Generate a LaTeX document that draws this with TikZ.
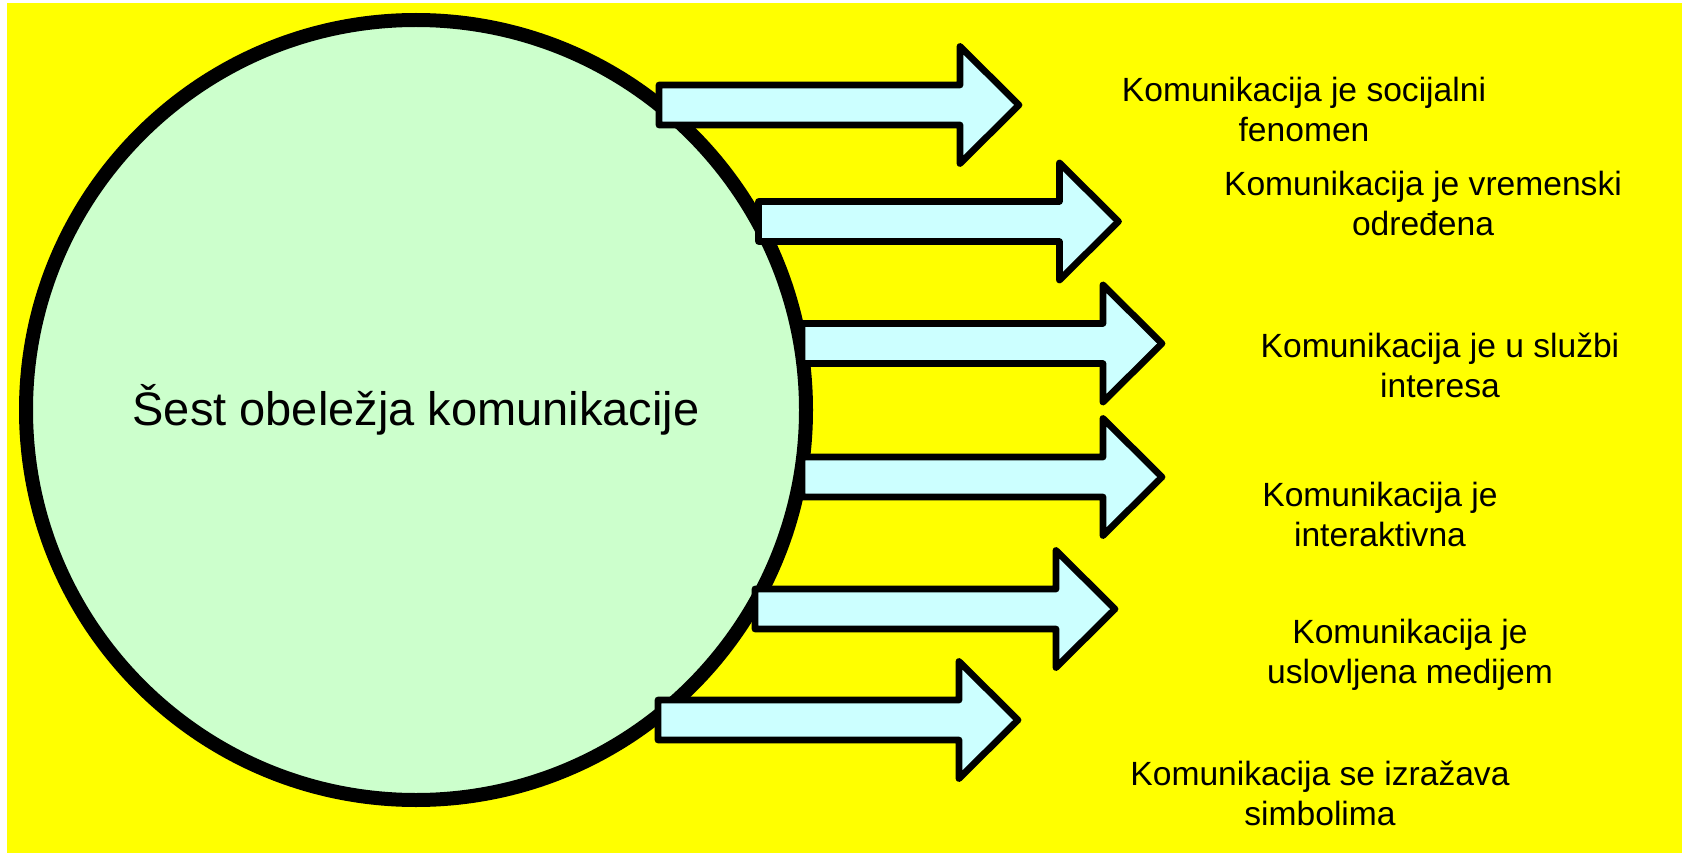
\documentclass[tikz,border=0pt]{standalone}
\usepackage{fontspec}
\setmainfont{Liberation Sans}
\definecolor{bgyellow}{HTML}{FFFF00}
\definecolor{circfill}{HTML}{CCFFCC}
\definecolor{arrfill}{HTML}{CCFFFF}
\tikzset{
  bigcircle/.style={circle, draw=black, fill=circfill, line width=14pt, inner sep=0pt,
    font=\fontsize{47}{56}\selectfont},
  fatarrow/.style={draw=black, fill=arrfill, line width=6.7pt, line join=round},
  lbltext/.style={anchor=base, inner sep=0pt, font=\fontsize{33.6}{40}\selectfont},
}
\newcommand{\fatarrowat}[3]{% name, left x, centre y
  \coordinate (#1) at (#2,#3);
  \draw[fatarrow] ([yshift=20pt]#1) -- ++(301,0) -- ++(0,-38.5) -- ++(59,58.5)
     -- ++(-59,58.5) -- ++(0,-38.5) -- ++(-301,0) -- cycle;
}
\begin{document}
\begin{tikzpicture}[x=1pt,y=-1pt]
  \useasboundingbox (0,0) rectangle (1687,853);
  \fill[bgyellow] (7,3) rectangle (1682,853);
  \node[bigcircle, minimum size=780pt] (core) at (416,410) {Šest obeležja komunikacije};
  \fatarrowat{a1}{659}{105}
  \fatarrowat{a2}{758.5}{221.5}
  \fatarrowat{a3}{802}{343.5}
  \fatarrowat{a4}{802}{477}
  \fatarrowat{a5}{755}{609}
  \fatarrowat{a6}{658}{720}
  \node[lbltext] (t1) at (1304,101.5) {\begin{tabular}[t]{@{}c@{}}Komunikacija je socijalni\\ fenomen\end{tabular}};
  \node[lbltext] (t2) at (1423,195.5) {\begin{tabular}[t]{@{}c@{}}Komunikacija je vremenski\\ određena\end{tabular}};
  \node[lbltext] (t3) at (1440,357.5) {\begin{tabular}[t]{@{}c@{}}Komunikacija je u službi\\ interesa\end{tabular}};
  \node[lbltext] (t4) at (1380,506.5) {\begin{tabular}[t]{@{}c@{}}Komunikacija je\\ interaktivna\end{tabular}};
  \node[lbltext] (t5) at (1410,643) {\begin{tabular}[t]{@{}c@{}}Komunikacija je\\ uslovljena medijem\end{tabular}};
  \node[lbltext] (t6) at (1320,785.5) {\begin{tabular}[t]{@{}c@{}}Komunikacija se izražava\\ simbolima\end{tabular}};
\end{tikzpicture}
\end{document}
